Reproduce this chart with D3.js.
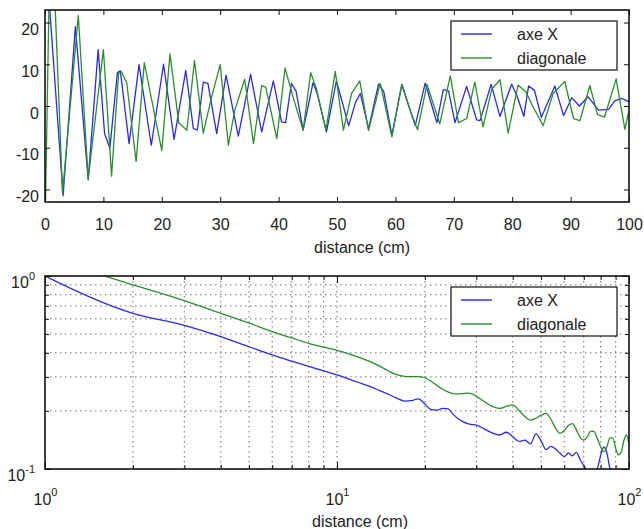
<!DOCTYPE html>
<html><head><meta charset="utf-8">
<script src="https://cdn.jsdelivr.net/npm/d3@7"></script>
<style>
body{margin:0;background:#fff;}
text{font-family:"Liberation Sans",Arial,sans-serif;fill:#222;}
</style></head><body>
<svg id="c" width="644" height="529"></svg>
<script>
// ---------- data ----------
const seriesNames = ["axe X", "diagonale"];
const seriesColors = ["#2a2ae6", "#2a8f2a"];

// top panel: signal vs distance (cm)
const topDistX = [0,3.1,5.2,7.4,9.1,10.2,11.1,12.4,12.9,14.4,16.1,18.2,20.3,22.1,24.1,25.4,26.1,27.1,27.9,29.4,31.0,33.1,35.2,37.1,39.1,40.5,41.2,42.2,43.0,44.2,45.9,46.6,48.2,49.9,52.0,53.2,54.0,55.4,57.1,58.0,59.4,61.1,63.4,65.1,67.1,68.2,69.1,70.2,72.2,73.9,74.5,76.4,77.9,79.9,80.8,82.0,82.8,83.8,85.0,87.3,88.8,90.2,91.5,93.0,94.8,96.5,97.6,98.8,100];
const topValX  = [39,-21.5,19,-17.7,13.5,-6.6,-10.1,8,8.4,-9,9.9,-9.4,10,-8,8.5,-5.4,-5.7,5.7,5.4,-6.6,7.4,-7.2,7.6,-6.2,6,-3.8,-4,5.4,3.5,-5.8,5.6,3,-6.2,6,-4.7,1,3,-5.5,5.2,3.5,-7,5.2,-4.7,5.5,-4,3.9,3.6,-4,4.7,-3.3,-3.5,5.2,-2.5,5.2,2.5,-2.5,4.8,3.8,-2.7,4.8,-2.3,2,0,2.2,-1,-0.8,1.3,1.8,1];
const topDistD = [0,1,3.0,5.7,7.4,10.0,11.4,12.6,13.1,14.0,15.6,17.0,20.0,21.4,22.9,24.3,25.6,27.1,28.5,30.0,31.4,32.5,34.2,35.7,37.1,37.8,39.7,41.1,42.5,44.2,45.5,46.5,48.1,49.7,51.1,52.5,53.9,55.4,57.4,59.4,61.1,62.5,63.8,65.4,67.6,69.4,70.8,72.2,73.6,75.0,76.5,77.9,79.3,81.0,82.3,83.5,85.3,87.0,89.0,90.5,91.6,93.3,94.6,95.8,97.8,99.3,100];
const topValD  = [-30,50,-20.8,21.7,-17.4,13.5,-16.8,7.8,8.2,5.5,-13.3,10.4,-10.7,12.5,-4,-5.8,10.9,-6.5,2,9.9,-9.4,-1,6.4,-9,4.9,4.5,-7.8,9.1,2,-5.8,8,4,-5.8,8.3,-5.8,3,6,-5.9,5.5,-7.4,5.2,-1,-5.7,5.2,-4.3,7.2,-4,-3,5.7,-5,4,6.3,-6.5,5,3.5,0,-4.7,3,5.9,-3,-3.5,4.9,-2,-2.7,6.5,-5.6,-1];
const topXTicks = [0,10,20,30,40,50,60,70,80,90,100];
const topYTicks = [-20,-10,0,10,20];

// bottom panel: normalised amplitude (log-log)
const logDist = [1,2,3,4,5,6,7,8,9,10,11,12,13,14,15,16,17,18,19,20,21,22,23,24,25,26,27,28,29,30,32,34,36,38,40,42,44,46,48,50,52,54,56,58,60,62,64,66,68,70,72,74,76,78,80,82,84,86,88,90,92,94,96,98,100];
const logValX = [1.0,0.64,0.555,0.485,0.43,0.39,0.362,0.34,0.322,0.307,
  0.292,0.279,0.267,0.255,0.244,0.233,0.225,0.226,0.231,0.217,
  0.203,0.202,0.206,0.205,0.192,0.182,0.176,0.172,0.170,0.169,
  0.161,0.154,0.150,0.155,0.147,0.139,0.141,0.135,0.152,0.140,
  0.126,0.131,0.127,0.121,0.116,0.121,0.117,0.122,0.112,0.104,
  0.097,0.093,0.094,0.101,0.118,0.130,0.121,0.101,0.092,0.088,
  0.085,0.083,0.082,0.080,0.080];
const logValD = [1.25,0.90,0.745,0.64,0.57,0.515,0.478,0.448,0.428,0.412,
  0.395,0.377,0.36,0.341,0.322,0.308,0.302,0.301,0.301,0.297,
  0.285,0.271,0.259,0.251,0.246,0.245,0.246,0.247,0.245,0.238,
  0.223,0.211,0.206,0.211,0.215,0.201,0.187,0.179,0.183,0.19,
  0.194,0.181,0.163,0.153,0.158,0.168,0.172,0.16,0.146,0.141,
  0.147,0.157,0.156,0.143,0.13,0.123,0.13,0.145,0.145,0.128,
  0.118,0.122,0.14,0.15,0.135];
const logXTicks = [1,10,100];
const logXTickExp = ["0","1","2"];
const logYTicks = [0.1,1];
const logYTickExp = ["-1","0"];
const logMinor = [2,3,4,5,6,7,8,9];
const xLabel = "distance (cm)";

// ---------- drawing ----------
const svg = d3.select("#c");
const FS = 16;

function frame(g, x0, y0, x1, y1) {
  g.append("rect").attr("x", x0).attr("y", y0).attr("width", x1 - x0).attr("height", y1 - y0)
    .attr("fill", "none").attr("stroke", "#111").attr("stroke-width", 1.6);
}
function legend(g, lx, ly) {
  g.append("rect").attr("x", lx).attr("y", ly).attr("width", 166).attr("height", 49)
    .attr("fill", "#fff").attr("stroke", "#222").attr("stroke-width", 1.3);
  seriesNames.forEach((n, i) => {
    const yy = ly + 13 + i * 24;
    g.append("line").attr("x1", lx + 10).attr("x2", lx + 41).attr("y1", yy).attr("y2", yy)
      .attr("stroke", seriesColors[i]).attr("stroke-width", 1.4);
    g.append("text").attr("x", lx + 66).attr("y", yy).attr("dy", "0.35em")
      .attr("font-size", FS).text(n);
  });
}

// ---- top panel ----
const T = {l: 45, r: 629, t: 10, b: 202};
const xT = d3.scaleLinear().domain([0, 100]).range([T.l, T.r]);
const yT = d3.scaleLinear().domain([-23, 23]).range([T.b, T.t]);
const gT = svg.append("g");
svg.append("clipPath").attr("id", "clipT").append("rect")
  .attr("x", T.l).attr("y", T.t).attr("width", T.r - T.l).attr("height", T.b - T.t);

const lineT = d3.line().x(d => xT(d[0])).y(d => yT(d[1]));
[[topDistX, topValX], [topDistD, topValD]].forEach(([ds, vs], i) => {
  gT.append("path").datum(ds.map((d, k) => [d, vs[k]]))
    .attr("clip-path", "url(#clipT)").attr("fill", "none")
    .attr("stroke", seriesColors[i]).attr("stroke-width", 1.3).attr("stroke-linejoin", "round")
    .attr("d", lineT);
});

const plain = d => String(d);
const axB = gT.append("g").attr("transform", `translate(0,${T.b})`)
  .call(d3.axisBottom(xT).tickValues(topXTicks).tickSize(-5).tickSizeOuter(0).tickPadding(17).tickFormat(plain));
const axTp = gT.append("g").attr("transform", `translate(0,${T.t})`)
  .call(d3.axisTop(xT).tickValues(topXTicks).tickSize(-5).tickSizeOuter(0).tickFormat(""));
const axL = gT.append("g").attr("transform", `translate(${T.l},0)`)
  .call(d3.axisLeft(yT).tickValues(topYTicks).tickSize(-5).tickSizeOuter(0).tickPadding(6).tickFormat(plain));
const axR = gT.append("g").attr("transform", `translate(${T.r},0)`)
  .call(d3.axisRight(yT).tickValues(topYTicks).tickSize(-5).tickSizeOuter(0).tickFormat(""));
axL.selectAll(".tick text").attr("dy", "0.75em");
[axB, axTp, axL, axR].forEach(a => {
  a.select(".domain").remove();
  a.selectAll(".tick line").attr("stroke", "#111");
  a.selectAll(".tick text").attr("font-size", FS).attr("fill", "#222")
    .attr("font-family", '"Liberation Sans",Arial,sans-serif');
});
frame(gT, T.l, T.t, T.r, T.b);
gT.append("text").attr("x", 362).attr("y", 247).attr("dy", "0.35em").attr("text-anchor", "middle")
  .attr("font-size", FS).text(xLabel);
legend(gT, 451, 21);

// ---- bottom panel ----
const B = {l: 45, r: 629, t: 276, b: 469};
const xB = d3.scaleLog().domain([1, 100]).range([B.l, B.r]);
const yB = d3.scaleLog().domain([0.1, 1]).range([B.b, B.t]);
const gB = svg.append("g");
svg.append("clipPath").attr("id", "clipB").append("rect")
  .attr("x", B.l).attr("y", B.t).attr("width", B.r - B.l).attr("height", B.b - B.t);

const minorX = [1, 10].flatMap(m => logMinor.map(k => k * m));
const minorY = logMinor.map(k => k / 10);
// grid
const grid = gB.append("g").attr("stroke", "#333").attr("stroke-width", 0.9)
  .attr("stroke-dasharray", "1.5,3.5").attr("opacity", 0.8);
minorX.concat([10]).forEach(v => grid.append("line").attr("x1", xB(v)).attr("x2", xB(v))
  .attr("y1", B.t).attr("y2", B.b));
minorY.forEach(v => grid.append("line").attr("y1", yB(v)).attr("y2", yB(v))
  .attr("x1", B.l).attr("x2", B.r));

const lineB = d3.line().x(d => xB(d[0])).y(d => yB(d[1])).curve(d3.curveMonotoneX);
[logValX, logValD].forEach((vs, i) => {
  gB.append("path").datum(logDist.map((d, k) => [d, vs[k]]))
    .attr("clip-path", "url(#clipB)").attr("fill", "none")
    .attr("stroke", seriesColors[i]).attr("stroke-width", 1.3).attr("d", lineB);
});

// ticks (major & minor, inward)
const axBB = gB.append("g").attr("transform", `translate(0,${B.b})`)
  .call(d3.axisBottom(xB).tickValues(logXTicks).tickSize(-7).tickSizeOuter(0).tickPadding(22).tickFormat(""));
const axBT = gB.append("g").attr("transform", `translate(0,${B.t})`)
  .call(d3.axisTop(xB).tickValues(logXTicks).tickSize(-7).tickSizeOuter(0).tickFormat(""));
const axBL = gB.append("g").attr("transform", `translate(${B.l},0)`)
  .call(d3.axisLeft(yB).tickValues(logYTicks).tickSize(-7).tickSizeOuter(0).tickPadding(10).tickFormat(""));
const axBR = gB.append("g").attr("transform", `translate(${B.r},0)`)
  .call(d3.axisRight(yB).tickValues(logYTicks).tickSize(-7).tickSizeOuter(0).tickFormat(""));
const mBB = gB.append("g").attr("transform", `translate(0,${B.b})`)
  .call(d3.axisBottom(xB).tickValues(minorX).tickSize(-4).tickSizeOuter(0).tickFormat(""));
const mBT = gB.append("g").attr("transform", `translate(0,${B.t})`)
  .call(d3.axisTop(xB).tickValues(minorX).tickSize(-4).tickSizeOuter(0).tickFormat(""));
const mBL = gB.append("g").attr("transform", `translate(${B.l},0)`)
  .call(d3.axisLeft(yB).tickValues(minorY).tickSize(-4).tickSizeOuter(0).tickFormat(""));
const mBR = gB.append("g").attr("transform", `translate(${B.r},0)`)
  .call(d3.axisRight(yB).tickValues(minorY).tickSize(-4).tickSizeOuter(0).tickFormat(""));
[axBB, axBT, axBL, axBR, mBB, mBT, mBL, mBR].forEach(a => {
  a.select(".domain").remove();
  a.selectAll(".tick line").attr("stroke", "#111");
});
// superscript tick labels
axBB.selectAll(".tick").each(function (d, i) {
  const t = d3.select(this).select("text").attr("y", 30).attr("dy", "0.35em")
    .attr("font-size", FS).attr("fill", "#222").attr("text-anchor", "middle")
    .attr("font-family", '"Liberation Sans",Arial,sans-serif');
  t.append("tspan").text("10");
  t.append("tspan").attr("dy", "-0.75em").attr("font-size", 11).text(logXTickExp[i]);
});
axBL.selectAll(".tick").each(function (d, i) {
  const t = d3.select(this).select("text").attr("x", -10).attr("dy", "0.72em")
    .attr("font-size", FS).attr("fill", "#222").attr("text-anchor", "end")
    .attr("font-family", '"Liberation Sans",Arial,sans-serif');
  t.append("tspan").text("10");
  t.append("tspan").attr("dy", "-0.75em").attr("font-size", 11).text(logYTickExp[i]);
});
frame(gB, B.l, B.t, B.r, B.b);
gB.append("text").attr("x", 360).attr("y", 521).attr("dy", "0.35em").attr("text-anchor", "middle")
  .attr("font-size", FS).text(xLabel);
legend(gB, 451, 287);
</script>
</body></html>
